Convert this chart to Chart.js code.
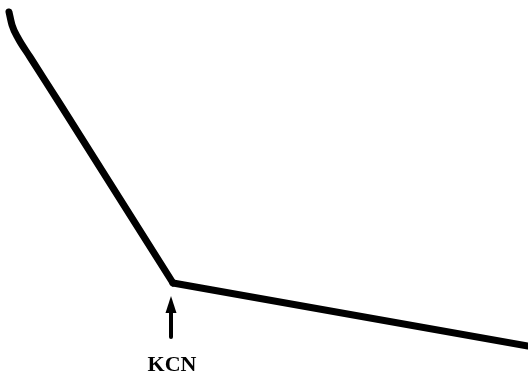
<!DOCTYPE html>
<html lang="en">
<head>
    <meta charset="UTF-8">
    <title>KCN</title>
    <style>
        body {
            margin: 0;
            background-color: #fff;
        }
    </style>
</head>
<body>
    <canvas id="curve" width="528" height="379"></canvas>

    <script src="https://cdn.jsdelivr.net/npm/chart.js"></script>
    <script>
        // trace before KCN (curved start), y growing downward
        var beforeX = [9, 12, 18, 30, 60, 173];
        var beforeY = [12, 25, 38, 57, 104, 283];

        // trace after KCN (straight)
        var afterX = [173, 528];
        var afterY = [283, 346];

        // marker for the KCN addition
        var markX = [171];
        var markTop = [296];
        var markBottom = [337];
        var markLabel = ['KCN'];

        function toPoints(xs, ys) {
            return xs.map(function (x, i) {
                return { x: x, y: ys[i] };
            });
        }

        // arrow + label drawn through the chart scales
        var arrowPlugin = {
            id: 'arrowPlugin',
            afterDatasetsDraw: function (chart) {
                var ctx = chart.ctx;
                var xs = chart.scales.x;
                var ys = chart.scales.y;
                ctx.save();
                ctx.fillStyle = '#000';
                ctx.strokeStyle = '#000';
                markX.forEach(function (mx, i) {
                    var px = xs.getPixelForValue(mx);
                    var top = ys.getPixelForValue(markTop[i]);
                    var bottom = ys.getPixelForValue(markBottom[i]);
                    ctx.lineWidth = 4;
                    ctx.lineCap = 'round';
                    ctx.beginPath();
                    ctx.moveTo(px, bottom);
                    ctx.lineTo(px, top + 12);
                    ctx.stroke();
                    ctx.beginPath();
                    ctx.moveTo(px, top);
                    ctx.lineTo(px - 5.5, top + 17);
                    ctx.lineTo(px + 5.5, top + 17);
                    ctx.closePath();
                    ctx.fill();

                    ctx.font = 'bold 22px "Liberation Serif", serif';
                    ctx.textAlign = 'center';
                    ctx.textBaseline = 'middle';
                    ctx.fillText(markLabel[i], px + 1, bottom + 28);
                });
                ctx.restore();
            }
        };

        var lineStyle = {
            borderColor: '#000',
            borderWidth: 7,
            borderCapStyle: 'round',
            borderJoinStyle: 'round',
            pointRadius: 0,
            fill: false
        };

        new Chart(document.getElementById('curve'), {
            type: 'line',
            data: {
                datasets: [
                    Object.assign({ data: toPoints(beforeX, beforeY), cubicInterpolationMode: 'monotone' }, lineStyle),
                    Object.assign({ data: toPoints(afterX, afterY), tension: 0 }, lineStyle)
                ]
            },
            options: {
                responsive: false,
                animation: false,
                layout: { padding: 0 },
                plugins: {
                    legend: { display: false },
                    tooltip: { enabled: false }
                },
                scales: {
                    x: { type: 'linear', min: 0, max: 528, display: false },
                    y: { type: 'linear', min: 0, max: 379, reverse: true, display: false }
                }
            },
            plugins: [arrowPlugin]
        });
    </script>
</body>
</html>
